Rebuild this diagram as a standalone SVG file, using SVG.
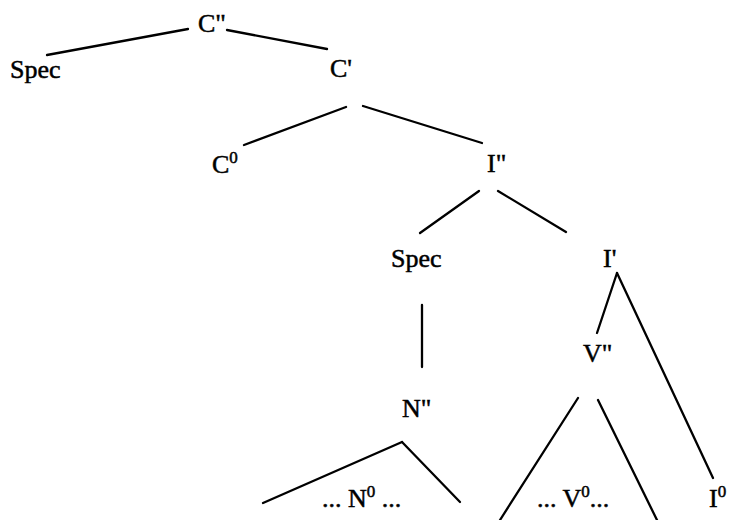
<svg xmlns="http://www.w3.org/2000/svg" width="730" height="520" viewBox="0 0 730 520">
<style>
text{font-family:"Liberation Serif","Times New Roman",serif;font-size:26px;fill:#000;stroke:#000;stroke-width:0.5}
.sup{font-size:17px}
line{stroke:#000;stroke-width:2.3;stroke-linecap:round}
</style>
<rect width="730" height="520" fill="#fff"/>
<g id="connectors">
<line x1="47" y1="55" x2="188" y2="29"/>
<line x1="227" y1="30" x2="327" y2="49"/>
<line x1="346" y1="107" x2="244" y2="145"/>
<line x1="363" y1="106" x2="482" y2="143"/>
<line x1="479" y1="191" x2="420" y2="233"/>
<line x1="498" y1="191" x2="566" y2="232"/>
<line x1="422" y1="305" x2="422" y2="367"/>
<line x1="597" y1="333" x2="617" y2="273"/>
<line x1="617" y1="273" x2="713" y2="478"/>
<line x1="578" y1="398" x2="500" y2="520"/>
<line x1="598" y1="400" x2="657" y2="520"/>
<line x1="263" y1="503" x2="402" y2="442"/>
<line x1="402" y1="442" x2="460" y2="502"/>
</g>
<g id="n-cbar2"><text x="198" y="32">C"</text></g>
<g id="n-spec1"><text x="10" y="78">Spec</text></g>
<g id="n-cbar1"><text x="330" y="77">C'</text></g>
<g id="n-c0"><text x="212" y="173">C<tspan class="sup" dy="-10">0</tspan></text></g>
<g id="n-ibar2"><text x="487" y="172">I"</text></g>
<g id="n-spec2"><text x="391" y="267">Spec</text></g>
<g id="n-ibar1"><text x="603" y="267">I'</text></g>
<g id="n-vbar2"><text x="583" y="362">V"</text></g>
<g id="n-nbar2"><text x="402" y="417">N"</text></g>
<g id="n-n0"><text x="322" y="507">... N<tspan class="sup" dy="-10">0</tspan><tspan dy="10"> ...</tspan></text></g>
<g id="n-v0"><text x="537" y="507">... V<tspan class="sup" dy="-10">0</tspan><tspan dy="10">...</tspan></text></g>
<g id="n-i0"><text x="709" y="507">I<tspan class="sup" dy="-10">0</tspan></text></g>
</svg>
